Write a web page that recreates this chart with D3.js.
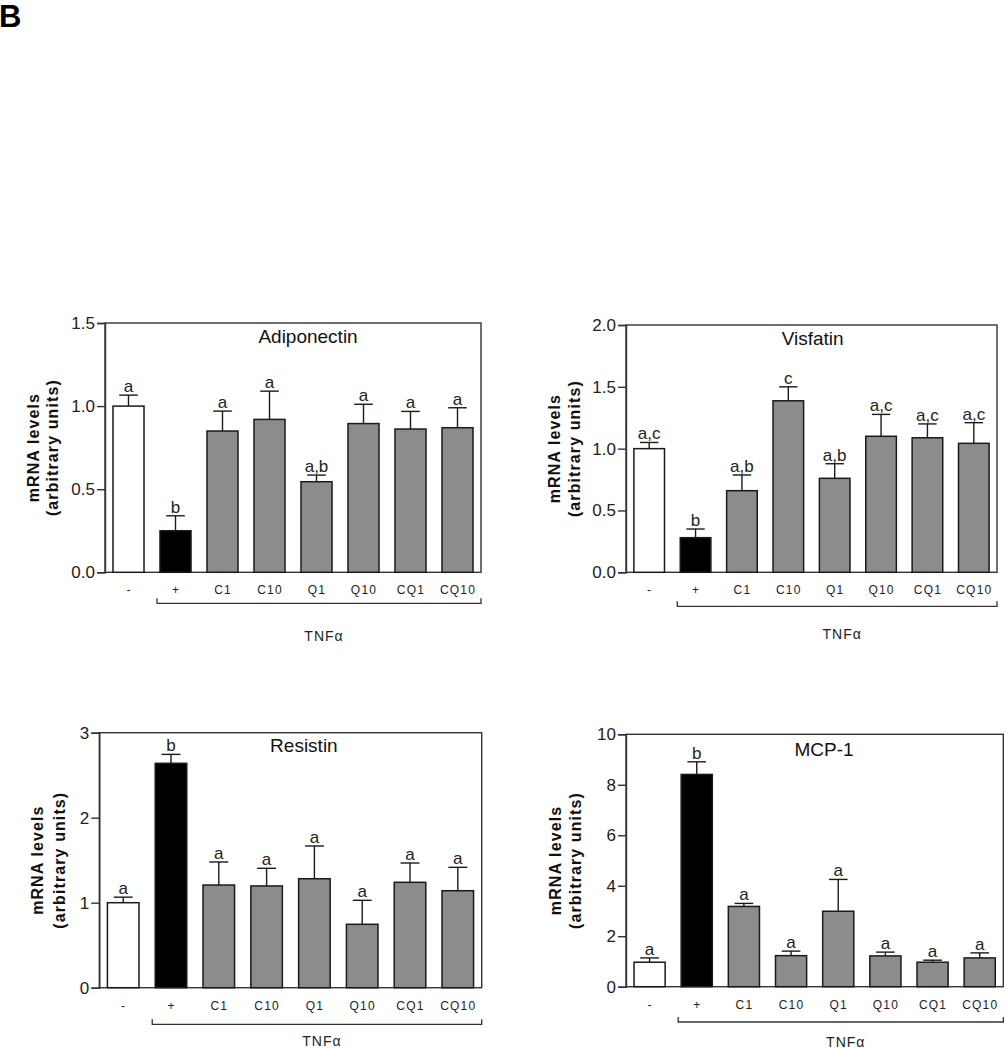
<!DOCTYPE html>
<html>
<head>
<meta charset="utf-8">
<script src="https://cdn.jsdelivr.net/npm/d3@7"></script>
<style>
  body { margin: 0; background: #fff; }
  svg { display: block; font-family: Arial, 'Liberation Sans', sans-serif; }
</style>
</head>
<body>
<svg id="fig" width="1006" height="1050"></svg>
<script>
// groups on the x axis (all but the first are TNFa treated)
var groups = ['-', '+', 'C1', 'C10', 'Q1', 'Q10', 'CQ1', 'CQ10'];
var fills = ['#ffffff', '#000000', '#8c8c8c', '#8c8c8c', '#8c8c8c', '#8c8c8c', '#8c8c8c', '#8c8c8c'];

var adiponectinMean = [1.0, 0.25, 0.85, 0.92, 0.545, 0.895, 0.862, 0.87];
var adiponectinErr  = [0.066, 0.09, 0.12, 0.17, 0.04, 0.116, 0.106, 0.12];
var adiponectinSig  = ['a', 'b', 'a', 'a', 'a,b', 'a', 'a', 'a'];
var adiponectinTicks = [0, 0.5, 1.0, 1.5];

var visfatinMean = [1.0, 0.28, 0.66, 1.387, 0.76, 1.10, 1.088, 1.043];
var visfatinErr  = [0.05, 0.07, 0.127, 0.113, 0.118, 0.177, 0.112, 0.167];
var visfatinSig  = ['a,c', 'b', 'a,b', 'c', 'a,b', 'a,c', 'a,c', 'a,c'];
var visfatinTicks = [0, 0.5, 1.0, 1.5, 2.0];

var resistinMean = [1.0, 2.64, 1.208, 1.197, 1.282, 0.746, 1.24, 1.141];
var resistinErr  = [0.065, 0.105, 0.271, 0.208, 0.385, 0.282, 0.227, 0.275];
var resistinSig  = ['a', 'b', 'a', 'a', 'a', 'a', 'a', 'a'];
var resistinTicks = [0, 1, 2, 3];

var mcp1Mean = [0.97, 8.41, 3.18, 1.23, 2.99, 1.22, 0.97, 1.14];
var mcp1Err  = [0.17, 0.50, 0.12, 0.18, 1.26, 0.15, 0.08, 0.20];
var mcp1Sig  = ['a', 'b', 'a', 'a', 'a', 'a', 'a', 'a'];
var mcp1Ticks = [0, 2, 4, 6, 8, 10];

var panels = [
  {title: 'Adiponectin', mean: adiponectinMean, err: adiponectinErr, sig: adiponectinSig, ticks: adiponectinTicks, fmt: '.1f'},
  {title: 'Visfatin', mean: visfatinMean, err: visfatinErr, sig: visfatinSig, ticks: visfatinTicks, fmt: '.1f'},
  {title: 'Resistin', mean: resistinMean, err: resistinErr, sig: resistinSig, ticks: resistinTicks, fmt: 'd'},
  {title: 'MCP-1', mean: mcp1Mean, err: mcp1Err, sig: mcp1Sig, ticks: mcp1Ticks, fmt: 'd'}
];

// where each plot box sits on the page
var layout = [
  {x0: 105, x1: 481, y0: 323, y1: 572.3, titleX: 0.54, titleDy: 20, lab: [-72, -53], brDy: 31, tnfDy: 38},
  {x0: 626, x1: 997, y0: 325, y1: 572.3, titleX: 0.503, titleDy: 20, lab: [-71.5, -51.5], brDy: 34, tnfDy: 33},
  {x0: 99.3, x1: 481.7, y0: 732.7, y1: 987.7, titleX: 0.535, titleDy: 19, lab: [-62, -40], brDy: 36.6, tnfDy: 22},
  {x0: 626, x1: 1003.3, y0: 734.3, y1: 986.7, titleX: 0.525, titleDy: 22, lab: [-71, -50.5], brDy: 35.3, tnfDy: 25}
];

var ink = '#1a1a1a';
var svg = d3.select('#fig');

svg.append('text')
    .attr('x', -1).attr('y', 27)
    .style('font-size', '31px').style('font-weight', 'bold')
    .text('B');

panels.forEach(function(p, i){
    var L = layout[i];
    var g = svg.append('g');

    var x = d3.scaleBand().domain(groups).range([L.x0, L.x1])
        .paddingInner(0.34).paddingOuter(0.17);
    var y = d3.scaleLinear().domain([0, p.ticks[p.ticks.length - 1]]).range([L.y1, L.y0]);

    var rows = groups.map(function(k, j){
        return {key: k, mean: p.mean[j], err: p.err[j], sig: p.sig[j], fill: fills[j]};
    });

    // frame
    g.append('rect')
        .attr('x', L.x0).attr('y', L.y0)
        .attr('width', L.x1 - L.x0).attr('height', L.y1 - L.y0)
        .style('fill', 'none').style('stroke', '#333').style('stroke-width', 1.4);

    // y axis
    var ya = g.append('g')
        .attr('transform', 'translate(' + L.x0 + ',0)')
        .call(d3.axisLeft(y).tickValues(p.ticks).tickFormat(d3.format(p.fmt)).tickSize(8).tickPadding(2));
    ya.select('.domain').style('stroke', '#333').style('stroke-width', 1.4);
    ya.selectAll('.tick line').style('stroke', '#333').style('stroke-width', 1.4);
    ya.selectAll('.tick text')
        .style('font-size', '17px').style('fill', '#222')
        .style('font-family', "Arial, 'Liberation Sans', sans-serif");

    // error bars (upper only)
    var eb = g.selectAll('.eb').data(rows).enter().append('g');
    eb.append('line')
        .attr('x1', function(d){ return x(d.key) + x.bandwidth() / 2; })
        .attr('x2', function(d){ return x(d.key) + x.bandwidth() / 2; })
        .attr('y1', function(d){ return y(d.mean); })
        .attr('y2', function(d){ return y(d.mean + d.err); })
        .style('stroke', ink).style('stroke-width', 1.4);
    eb.append('line')
        .attr('x1', function(d){ return x(d.key) + x.bandwidth() * 0.2; })
        .attr('x2', function(d){ return x(d.key) + x.bandwidth() * 0.8; })
        .attr('y1', function(d){ return y(d.mean + d.err); })
        .attr('y2', function(d){ return y(d.mean + d.err); })
        .style('stroke', ink).style('stroke-width', 1.4);

    // bars
    g.selectAll('.bar').data(rows).enter().append('rect')
        .attr('x', function(d){ return x(d.key); })
        .attr('y', function(d){ return y(d.mean); })
        .attr('width', x.bandwidth())
        .attr('height', function(d){ return y(0) - y(d.mean); })
        .style('fill', function(d){ return d.fill; })
        .style('stroke', ink).style('stroke-width', 1.5);

    // significance letters
    g.selectAll('.sig').data(rows).enter().append('text')
        .attr('x', function(d){ return x(d.key) + x.bandwidth() / 2; })
        .attr('y', function(d){ return y(d.mean + d.err) - 3; })
        .attr('text-anchor', 'middle')
        .style('font-size', '17px').style('fill', '#222')
        .text(function(d){ return d.sig; });

    // group labels
    g.selectAll('.xl').data(rows).enter().append('text')
        .attr('x', function(d){ return x(d.key) + x.bandwidth() / 2 + 0.5; })
        .attr('y', L.y1 + 22)
        .attr('text-anchor', 'middle')
        .style('font-size', '12px').style('letter-spacing', '1.2px').style('fill', '#222')
        .text(function(d){ return d.key; });

    // TNFa bracket
    var bx0 = x('+') - 3, bx1 = L.x1, by = L.y1 + L.brDy;
    g.append('path')
        .attr('d', 'M' + bx0 + ',' + (by - 5) + 'V' + by + 'H' + bx1 + 'V' + (by - 5))
        .style('fill', 'none').style('stroke', '#333').style('stroke-width', 1.3);
    g.append('text')
        .attr('x', (bx0 + bx1) / 2 + 5).attr('y', by + L.tnfDy)
        .attr('text-anchor', 'middle')
        .style('font-size', '14px').style('letter-spacing', '1px').style('fill', '#222')
        .text('TNFα');

    // title
    g.append('text')
        .attr('x', L.x0 + (L.x1 - L.x0) * L.titleX).attr('y', L.y0 + L.titleDy)
        .attr('text-anchor', 'middle')
        .style('font-size', '19px').style('fill', '#111')
        .text(p.title);

    // y title
    var cy = (L.y0 + L.y1) / 2;
    [['mRNA levels', L.lab[0]], ['(arbitrary units)', L.lab[1]]].forEach(function(t){
        g.append('text')
            .attr('transform', 'translate(' + (L.x0 + t[1]) + ',' + cy + ') rotate(-90)')
            .attr('dy', '0.35em')
            .attr('text-anchor', 'middle')
            .style('font-size', '16px').style('font-weight', 'bold').style('letter-spacing', '1.1px')
            .style('fill', '#111')
            .text(t[0]);
    });
});
</script>
</body>
</html>
